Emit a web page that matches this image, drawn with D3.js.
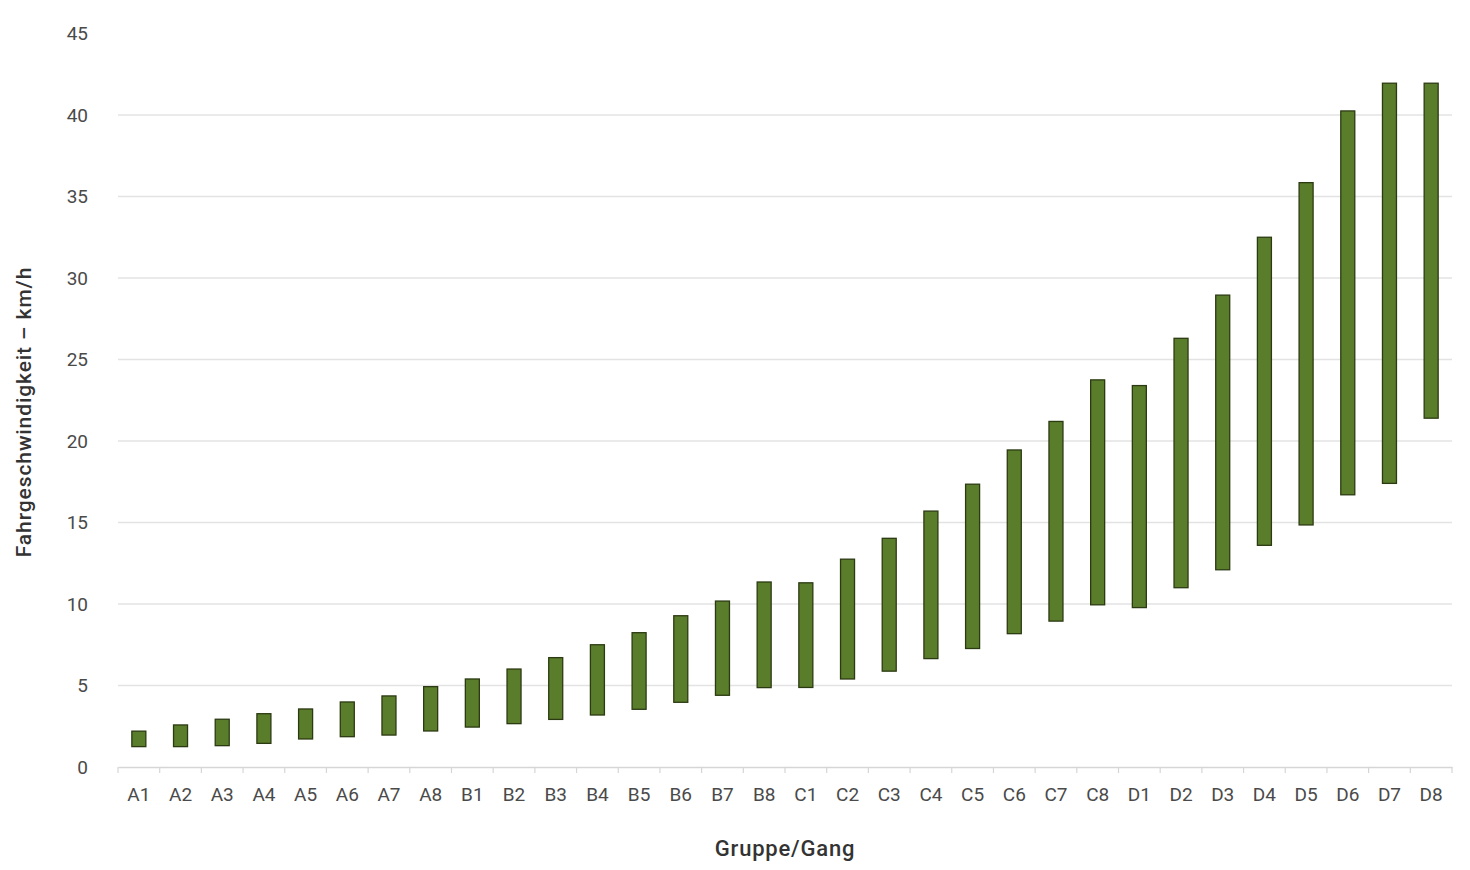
<!DOCTYPE html>
<html>
<head>
<meta charset="utf-8">
<script src="https://cdn.jsdelivr.net/npm/d3@7"></script>
<style>
  html, body { margin: 0; padding: 0; background: #fff; }
  svg { display: block; }
</style>
</head>
<body>
<svg id="chart" width="1470" height="870"></svg>
<script>
const categories = ["A1","A2","A3","A4","A5","A6","A7","A8",
                    "B1","B2","B3","B4","B5","B6","B7","B8",
                    "C1","C2","C3","C4","C5","C6","C7","C8",
                    "D1","D2","D3","D4","D5","D6","D7","D8"];
const minSpeed = [1.25,1.25,1.31,1.45,1.72,1.86,1.96,2.21,
                  2.45,2.66,2.92,3.19,3.54,3.97,4.40,4.87,
                  4.88,5.40,5.88,6.65,7.27,8.18,8.95,9.95,
                  9.78,11.0,12.1,13.6,14.85,16.7,17.4,21.4];
const maxSpeed = [2.2,2.58,2.93,3.27,3.56,3.99,4.36,4.93,
                  5.40,6.01,6.71,7.50,8.24,9.28,10.18,11.35,
                  11.3,12.75,14.03,15.7,17.35,19.45,21.2,23.75,
                  23.4,26.3,28.95,32.5,35.85,40.25,41.95,41.95];
const yTicks = [0,5,10,15,20,25,30,35,40,45];
const xTitle = "Gruppe/Gang";
const yTitle = "Fahrgeschwindigkeit – km/h";

(function () {
const svg = d3.select("#chart");
const mLeft = 118, mRight = 1452, mTop = 33.5, mBottom = 767;

const x = d3.scaleBand().domain(categories).range([mLeft, mRight]).paddingInner(0).paddingOuter(0);
const y = d3.scaleLinear().domain([0, 45]).range([mBottom, mTop]);

const font = "Roboto, 'DejaVu Sans', sans-serif";

// gridlines
svg.append("g").selectAll("line")
  .data(yTicks.filter(d => d > 0 && d < 45))
  .join("line")
  .attr("x1", mLeft).attr("x2", mRight)
  .attr("y1", d => y(d)).attr("y2", d => y(d))
  .attr("stroke", "#e3e3e3").attr("stroke-width", 1.5);

// y tick labels
svg.append("g").selectAll("text")
  .data(yTicks)
  .join("text")
  .attr("x", 88).attr("y", d => y(d))
  .attr("dy", "0.35em")
  .attr("text-anchor", "end")
  .attr("font-family", font)
  .attr("font-size", 19)
  .attr("fill", "#4a4a4a")
  .text(d => d);

// x axis
const xAxis = d3.axisBottom(x).tickSize(0).tickPadding(21);
const gx = svg.append("g").attr("transform", `translate(0,${mBottom})`).call(xAxis);
gx.select(".domain").attr("stroke", "#d6d6d6").attr("stroke-width", 1.5);
gx.selectAll("text").attr("font-family", font).attr("font-size", 19).attr("fill", "#4a4a4a");

// boundary ticks
const bounds = categories.map(c => x(c)).concat([mRight]);
svg.append("g").selectAll("line")
  .data(bounds)
  .join("line")
  .attr("x1", d => d).attr("x2", d => d)
  .attr("y1", mBottom).attr("y2", mBottom + 6)
  .attr("stroke", "#d6d6d6").attr("stroke-width", 1.2);

// bars (floating range bars)
const bw = 14;
svg.append("g").selectAll("rect")
  .data(categories.map((c, i) => ({c, lo: minSpeed[i], hi: maxSpeed[i]})))
  .join("rect")
  .attr("x", d => x(d.c) + x.bandwidth() / 2 - bw / 2)
  .attr("width", bw)
  .attr("y", d => y(d.hi))
  .attr("height", d => y(d.lo) - y(d.hi))
  .attr("fill", "#5a7d2c")
  .attr("stroke", "#2c3a12")
  .attr("stroke-width", 1.3);

// axis titles
svg.append("text")
  .attr("x", 785).attr("y", 856)
  .attr("text-anchor", "middle")
  .attr("font-family", font)
  .attr("font-size", 22)
  .attr("letter-spacing", 0.8)
  .attr("font-weight", 500)
  .attr("fill", "#333")
  .text(xTitle);

svg.append("text")
  .attr("transform", `translate(31,${412}) rotate(-90)`)
  .attr("text-anchor", "middle")
  .attr("font-family", font)
  .attr("font-size", 21)
  .attr("letter-spacing", 0.9)
  .attr("font-weight", 500)
  .attr("fill", "#333")
  .text(yTitle);
})();
</script>
</body>
</html>
